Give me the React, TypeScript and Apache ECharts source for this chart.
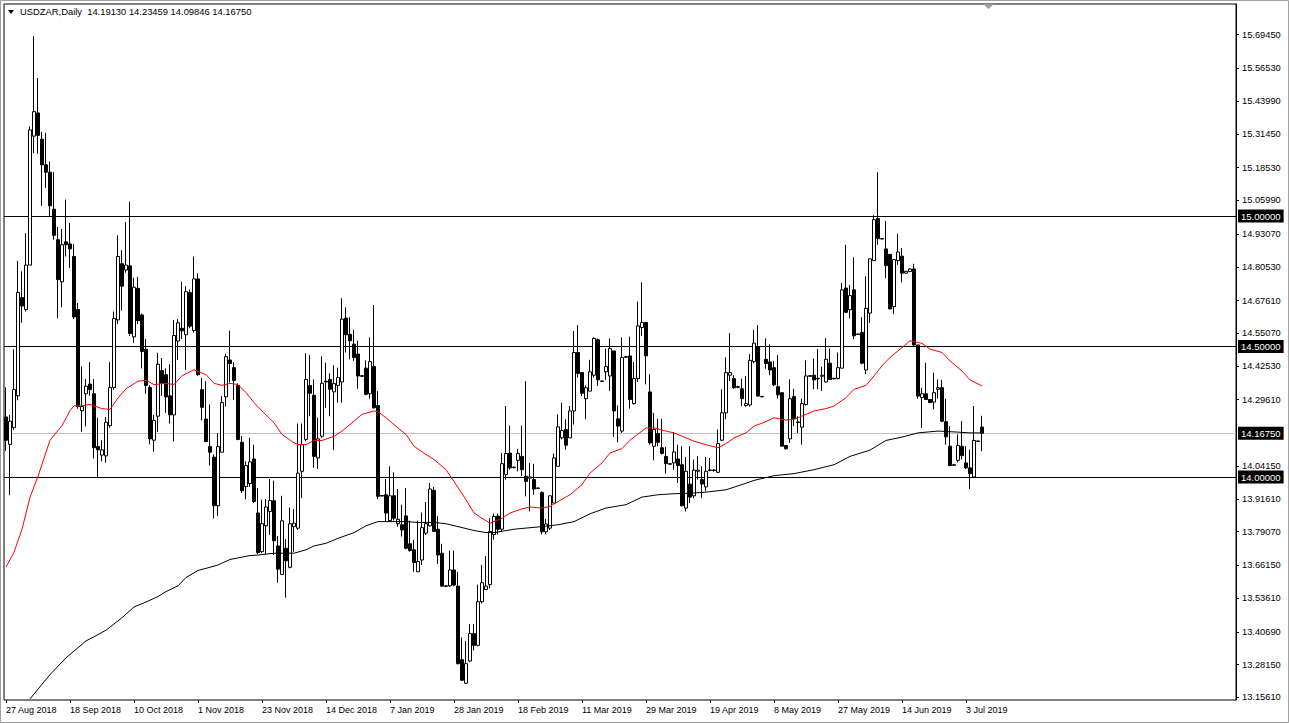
import React, { useEffect, useRef } from "react";
import * as echarts from "echarts";

// ---------- Data ----------
const openP = [
  14.230, 14.125, 14.189, 14.311, 14.688, 14.642, 14.812, 15.306, 15.395, 15.294,
  15.196, 15.168, 15.026, 14.909, 14.748, 14.901, 14.893, 14.845, 14.642, 14.254,
  14.319, 14.356, 14.319, 14.117, 14.084, 14.081, 14.197, 14.343, 14.602, 14.817,
  14.793, 14.809, 14.537, 14.723, 14.621, 14.489, 14.343, 14.141, 14.233, 14.408,
  14.392, 14.311, 14.238, 14.521, 14.570, 14.545, 14.707, 14.561, 14.759, 14.335,
  14.222, 14.117, 14.076, 13.890, 14.095, 14.307, 14.448, 14.419, 14.351, 14.133,
  13.963, 13.975, 14.069, 13.862, 13.714, 13.813, 13.868, 13.909, 13.736, 13.627,
  13.727, 13.654, 13.810, 13.804, 14.022, 14.144, 14.351, 14.313, 14.073, 14.156,
  14.367, 14.374, 14.326, 14.351, 14.364, 14.609, 14.547, 14.509, 14.471, 14.388,
  14.417, 14.319, 14.423, 14.274, 13.929, 13.932, 13.833, 13.928, 13.821, 13.817,
  13.851, 13.744, 13.721, 13.637, 13.682, 13.785, 13.813, 13.949, 13.800, 13.708,
  13.583, 13.583, 13.644, 13.582, 13.300, 13.210, 13.295, 13.400, 13.355, 13.522,
  13.569, 13.588, 13.780, 13.850, 13.800, 14.009, 14.092, 14.038, 14.064, 14.079,
  14.003, 13.996, 13.990, 13.958, 13.941, 13.790, 13.804, 13.900, 14.041, 14.150,
  14.182, 14.150, 14.253, 14.477, 14.400, 14.300, 14.329, 14.390, 14.526, 14.368,
  14.403, 14.387, 14.483, 14.223, 14.176, 14.461, 14.464, 14.281, 14.377, 14.573,
  14.592, 14.326, 14.118, 14.167, 14.112, 14.079, 14.051, 14.054, 14.069, 14.047,
  13.881, 13.973, 13.928, 14.022, 13.990, 13.962, 14.027, 14.027, 14.018, 14.141,
  14.246, 14.390, 14.377, 14.346, 14.338, 14.274, 14.276, 14.442, 14.499, 14.309,
  14.451, 14.441, 14.419, 14.346, 14.323, 14.121, 14.146, 14.308, 14.211, 14.191,
  14.278, 14.388, 14.390, 14.378, 14.386, 14.364, 14.436, 14.378, 14.377, 14.417,
  14.724, 14.641, 14.717, 14.548, 14.554, 14.410, 14.628, 14.829, 14.990, 14.914,
  14.874, 14.853, 14.653, 14.829, 14.846, 14.781, 14.787, 14.797, 14.506, 14.304,
  14.319, 14.297, 14.287, 14.336, 14.342, 14.212, 14.118, 14.047, 14.064, 14.118,
  14.054, 14.035, 14.000, 14.138, 14.1913,
];
const closeP = [
  14.141, 14.214, 14.335, 14.707, 14.655, 14.812, 15.330, 15.400, 15.309, 15.196,
  15.168, 15.039, 14.926, 14.756, 14.890, 14.890, 14.874, 14.613, 14.270, 14.270,
  14.348, 14.335, 14.112, 14.104, 14.104, 14.210, 14.343, 14.607, 14.845, 14.731,
  14.812, 14.550, 14.727, 14.599, 14.481, 14.351, 14.146, 14.217, 14.432, 14.359,
  14.307, 14.238, 14.542, 14.591, 14.560, 14.710, 14.578, 14.759, 14.392, 14.267,
  14.136, 14.095, 13.890, 14.117, 14.285, 14.461, 14.435, 14.370, 14.144, 13.947,
  14.044, 14.058, 13.906, 13.710, 13.821, 13.885, 13.910, 13.756, 13.647, 13.832,
  13.679, 13.821, 13.823, 14.015, 14.124, 14.374, 14.321, 14.079, 14.146, 14.359,
  14.364, 14.336, 14.358, 14.381, 14.605, 14.545, 14.522, 14.458, 14.387, 14.386,
  14.317, 14.442, 14.265, 13.926, 13.927, 13.862, 13.928, 13.842, 13.838, 13.797,
  13.727, 13.718, 13.672, 13.676, 13.806, 13.821, 13.954, 13.791, 13.701, 13.582,
  13.581, 13.644, 13.586, 13.285, 13.221, 13.285, 13.400, 13.355, 13.522, 13.595,
  13.582, 13.791, 13.849, 13.800, 14.051, 14.090, 14.035, 14.036, 14.090, 14.028,
  13.983, 14.000, 13.954, 13.956, 13.790, 13.820, 13.928, 14.073, 14.192, 14.178,
  14.122, 14.253, 14.477, 14.397, 14.321, 14.342, 14.403, 14.531, 14.372, 14.366,
  14.423, 14.492, 14.253, 14.195, 14.458, 14.459, 14.297, 14.377, 14.579, 14.592,
  14.464, 14.131, 14.182, 14.133, 14.090, 14.051, 14.049, 14.096, 14.044, 13.890,
  14.022, 13.923, 14.026, 14.026, 13.973, 14.022, 14.025, 14.025, 14.128, 14.246,
  14.400, 14.400, 14.342, 14.344, 14.300, 14.281, 14.447, 14.513, 14.310, 14.307,
  14.435, 14.410, 14.353, 14.315, 14.118, 14.108, 14.300, 14.223, 14.209, 14.281,
  14.387, 14.386, 14.372, 14.376, 14.390, 14.451, 14.374, 14.376, 14.419, 14.717,
  14.631, 14.695, 14.541, 14.546, 14.436, 14.646, 14.836, 14.986, 14.913, 14.912,
  14.810, 14.644, 14.833, 14.862, 14.781, 14.788, 14.797, 14.506, 14.310, 14.319,
  14.297, 14.285, 14.323, 14.342, 14.214, 14.154, 14.044, 14.045, 14.121, 14.082,
  14.035, 14.013, 14.140, 14.136, 14.1675,
];
const lowP = [
  14.100, 13.930, 14.181, 14.294, 14.591, 14.634, 14.812, 15.241, 15.238, 15.039,
  15.107, 14.998, 14.909, 14.608, 14.650, 14.845, 14.801, 14.605, 14.262, 14.173,
  14.194, 14.311, 14.071, 14.000, 14.060, 14.055, 14.189, 14.335, 14.586, 14.638,
  14.783, 14.540, 14.513, 14.586, 14.416, 14.319, 14.125, 14.097, 14.173, 14.311,
  14.246, 14.205, 14.136, 14.448, 14.529, 14.411, 14.570, 14.553, 14.388, 14.217,
  14.133, 14.044, 13.841, 13.850, 14.095, 14.270, 14.362, 14.296, 14.141, 13.939,
  13.914, 13.962, 13.900, 13.705, 13.708, 13.705, 13.778, 13.701, 13.595, 13.624,
  13.538, 13.650, 13.714, 13.797, 13.919, 14.137, 14.233, 14.035, 14.031, 14.150,
  14.265, 14.233, 14.103, 14.285, 14.285, 14.477, 14.451, 14.445, 14.338, 14.384,
  14.313, 14.300, 14.262, 13.915, 13.926, 13.829, 13.829, 13.833, 13.810, 13.772,
  13.723, 13.714, 13.637, 13.637, 13.663, 13.778, 13.810, 13.791, 13.667, 13.579,
  13.580, 13.579, 13.582, 13.282, 13.221, 13.208, 13.291, 13.336, 13.351, 13.515,
  13.569, 13.573, 13.760, 13.780, 13.790, 13.990, 14.028, 14.033, 14.022, 14.003,
  13.926, 13.868, 13.932, 13.955, 13.780, 13.780, 13.797, 13.900, 14.041, 14.144,
  14.105, 14.150, 14.201, 14.381, 14.310, 14.221, 14.329, 14.381, 14.349, 14.365,
  14.372, 14.329, 14.154, 14.133, 14.169, 14.458, 14.262, 14.278, 14.364, 14.541,
  14.355, 14.124, 14.064, 14.118, 14.086, 14.013, 14.048, 14.028, 13.977, 13.887,
  13.868, 13.900, 13.919, 13.990, 13.919, 13.945, 14.022, 14.020, 14.015, 14.137,
  14.221, 14.368, 14.338, 14.340, 14.272, 14.269, 14.269, 14.436, 14.308, 14.306,
  14.415, 14.390, 14.349, 14.300, 14.118, 14.105, 14.131, 14.195, 14.169, 14.124,
  14.274, 14.385, 14.336, 14.336, 14.329, 14.362, 14.372, 14.375, 14.374, 14.417,
  14.628, 14.608, 14.528, 14.545, 14.432, 14.394, 14.590, 14.829, 14.890, 14.910,
  14.762, 14.644, 14.624, 14.813, 14.746, 14.780, 14.785, 14.503, 14.300, 14.188,
  14.295, 14.285, 14.259, 14.300, 14.210, 14.124, 14.041, 14.044, 14.056, 14.067,
  14.031, 13.954, 13.996, 14.135, 14.09846,
];
const highP = [
  14.343, 14.238, 14.489, 14.828, 14.788, 14.934, 15.343, 15.689, 15.529, 15.322,
  15.319, 15.209, 15.168, 14.958, 14.950, 15.063, 14.974, 14.893, 14.667, 14.424,
  14.375, 14.440, 14.375, 14.227, 14.141, 14.230, 14.440, 14.634, 14.926, 14.869,
  14.977, 15.055, 14.764, 14.767, 14.626, 14.529, 14.351, 14.238, 14.476, 14.456,
  14.416, 14.432, 14.602, 14.605, 14.748, 14.731, 14.718, 14.845, 14.780, 14.379,
  14.367, 14.278, 14.087, 14.168, 14.311, 14.472, 14.561, 14.440, 14.359, 14.157,
  14.060, 14.150, 14.124, 13.958, 13.913, 13.915, 13.992, 13.986, 13.774, 13.928,
  13.762, 13.883, 13.877, 14.205, 14.205, 14.474, 14.467, 14.374, 14.227, 14.462,
  14.438, 14.397, 14.428, 14.419, 14.685, 14.650, 14.612, 14.564, 14.522, 14.390,
  14.447, 14.535, 14.659, 14.329, 13.930, 13.992, 14.041, 14.018, 13.954, 13.894,
  13.958, 13.833, 13.759, 13.833, 13.864, 13.904, 13.977, 13.962, 13.851, 13.744,
  13.584, 13.718, 13.718, 13.637, 13.385, 13.372, 13.436, 13.436, 13.588, 13.663,
  13.697, 13.842, 13.860, 13.860, 14.092, 14.272, 14.197, 14.040, 14.108, 14.197,
  14.367, 14.054, 14.050, 13.960, 13.945, 13.840, 13.928, 14.090, 14.240, 14.285,
  14.221, 14.272, 14.560, 14.582, 14.400, 14.351, 14.449, 14.535, 14.531, 14.370,
  14.492, 14.531, 14.483, 14.274, 14.535, 14.462, 14.538, 14.441, 14.672, 14.746,
  14.592, 14.394, 14.246, 14.223, 14.223, 14.115, 14.052, 14.172, 14.124, 14.118,
  14.077, 14.118, 14.067, 14.079, 14.041, 14.077, 14.073, 14.030, 14.182, 14.336,
  14.458, 14.551, 14.390, 14.350, 14.377, 14.387, 14.471, 14.564, 14.582, 14.310,
  14.531, 14.509, 14.445, 14.467, 14.323, 14.121, 14.374, 14.338, 14.233, 14.300,
  14.447, 14.390, 14.454, 14.490, 14.423, 14.532, 14.492, 14.380, 14.477, 14.744,
  14.890, 14.736, 14.842, 14.550, 14.612, 14.769, 14.836, 15.003, 15.167, 14.915,
  14.981, 14.853, 14.833, 14.932, 14.877, 14.790, 14.800, 14.817, 14.506, 14.342,
  14.438, 14.297, 14.400, 14.374, 14.372, 14.300, 14.195, 14.048, 14.163, 14.214,
  14.118, 14.105, 14.272, 14.140, 14.23459,
];

// Moving averages read at sampled bars: [bar index, value]
const maRed = [
  [0, 13.655], [2, 13.712], [4, 13.8], [6, 13.922], [8, 14.003], [11, 14.141], [14, 14.197],
  [16, 14.254], [17, 14.273], [19, 14.273], [21, 14.278], [24, 14.262], [26, 14.259], [28, 14.303],
  [30, 14.338], [33, 14.367], [35, 14.371], [37, 14.354], [40, 14.359], [42, 14.354], [44, 14.388],
  [47, 14.411], [50, 14.392], [52, 14.359], [54, 14.351], [56, 14.359], [58, 14.354], [60, 14.323],
  [62, 14.285], [64, 14.253], [67, 14.208], [69, 14.163], [72, 14.131], [73, 14.124], [75, 14.124],
  [77, 14.14], [79, 14.14], [82, 14.156], [84, 14.176], [87, 14.214], [89, 14.24], [92, 14.253],
  [93, 14.25], [95, 14.227], [97, 14.201], [100, 14.163], [102, 14.118], [105, 14.086], [107, 14.067],
  [110, 14.028], [112, 13.983], [115, 13.913], [117, 13.862], [119, 13.842], [121, 13.823],
  [124, 13.842], [126, 13.862], [129, 13.878], [131, 13.885], [134, 13.881], [136, 13.887],
  [138, 13.906], [141, 13.932], [144, 13.971], [146, 14.015], [149, 14.054], [151, 14.092],
  [154, 14.109], [156, 14.141], [159, 14.176], [160, 14.188], [162, 14.188], [165, 14.176],
  [167, 14.169], [170, 14.15], [172, 14.137], [175, 14.124], [178, 14.112], [180, 14.128],
  [182, 14.15], [185, 14.169], [187, 14.195], [190, 14.212], [192, 14.227], [195, 14.218],
  [197, 14.221], [200, 14.24], [202, 14.253], [205, 14.262], [207, 14.272], [210, 14.304],
  [212, 14.336], [215, 14.351], [217, 14.387], [219, 14.426], [221, 14.458], [224, 14.496],
  [226, 14.522], [229, 14.512], [231, 14.49], [234, 14.477], [236, 14.445], [239, 14.406],
  [241, 14.372], [244, 14.349],
];
const maBlack = [
  [6, 13.15], [11, 13.243], [15, 13.307], [20, 13.372], [22, 13.388], [25, 13.413], [29, 13.461],
  [32, 13.502], [35, 13.521], [38, 13.542], [40, 13.561], [43, 13.583], [45, 13.615], [48, 13.642],
  [50, 13.65], [53, 13.663], [56, 13.684], [59, 13.693], [61, 13.699], [63, 13.701], [67, 13.708],
  [72, 13.708], [75, 13.721], [77, 13.736], [80, 13.746], [83, 13.765], [87, 13.787], [90, 13.813],
  [93, 13.829], [97, 13.829], [100, 13.829], [103, 13.826], [107, 13.826], [110, 13.821],
  [113, 13.81], [117, 13.795], [120, 13.787], [122, 13.787], [127, 13.8], [134, 13.81],
  [138, 13.817], [142, 13.829], [146, 13.859], [150, 13.881], [155, 13.894], [159, 13.923],
  [163, 13.932], [167, 13.936], [171, 13.938], [175, 13.942], [180, 13.951], [184, 13.971],
  [187, 13.987], [192, 14.005], [197, 14.013], [202, 14.028], [207, 14.047], [211, 14.079],
  [216, 14.103], [220, 14.14], [224, 14.153], [228, 14.169], [233, 14.176], [238, 14.172],
  [241, 14.169], [244, 14.169],
];

const dateLabels = [
  "27 Aug 2018", "18 Sep 2018", "10 Oct 2018", "1 Nov 2018", "23 Nov 2018", "14 Dec 2018",
  "7 Jan 2019", "28 Jan 2019", "18 Feb 2019", "11 Mar 2019", "29 Mar 2019", "19 Apr 2019",
  "8 May 2019", "27 May 2019", "14 Jun 2019", "3 Jul 2019",
];
const priceTicks = [
  15.6945, 15.5653, 15.4399, 15.3145, 15.1853, 15.0599, 14.9307, 14.8053, 14.6761, 14.5507,
  14.4253, 14.2961, 14.0415, 13.9161, 13.7907, 13.6615, 13.5361, 13.4069, 13.2815, 13.1561,
];
const levelLines = [15.0, 14.5, 14.0];
const currentPrice = 14.1675;
const headerText = "USDZAR,Daily  14.19130 14.23459 14.09846 14.16750";

const LABEL_EVERY = 16;
const TOTAL_SLOTS = 308;

const FONT = "'Liberation Sans', Arial, sans-serif";

export default function App() {
  const ref = useRef<HTMLDivElement>(null);
  useEffect(() => {
    if (!ref.current) return;
    const chart = echarts.init(ref.current, undefined, { renderer: "svg" });
    const cats = Array.from({ length: TOTAL_SLOTS }, (_, i) => String(i));
    const candles = openP.map((o, i) => [o, closeP[i], lowP[i], highP[i]]);
    const isLabel = (idx: number) => idx % LABEL_EVERY === 0 && idx / LABEL_EVERY < dateLabels.length;
    const boxLabel = (v: number) => ({
      show: true,
      position: "end",
      distance: 2,
      formatter: v.toFixed(5),
      color: "#fff",
      backgroundColor: "#000",
      padding: [2, 3, 1, 3],
      fontSize: 9.5,
      fontFamily: FONT,
    });

    chart.setOption({
      animation: false,
      backgroundColor: "#ffffff",
      grid: {
        left: 4, top: 4, width: 1232, height: 696,
        show: true, borderColor: "#000", borderWidth: 1, backgroundColor: "#fff",
      },
      xAxis: {
        type: "category",
        data: cats,
        boundaryGap: true,
        axisLine: { show: false },
        axisTick: {
          show: true, length: 3, alignWithLabel: true,
          interval: (idx: number) => isLabel(idx),
          lineStyle: { color: "#000" },
        },
        axisLabel: {
          show: true,
          interval: (idx: number) => isLabel(idx),
          formatter: (_v: string, idx: number) => (isLabel(idx) ? dateLabels[idx / LABEL_EVERY] : ""),
          align: "left",
          margin: 5,
          color: "#000",
          fontSize: 9,
          fontFamily: FONT,
        },
        splitLine: { show: false },
      },
      yAxis: {
        type: "value",
        position: "right",
        min: 13.1456,
        max: 15.8123,
        axisLine: { show: true, lineStyle: { color: "#000" } },
        axisTick: { show: true, length: 3, customValues: priceTicks, lineStyle: { color: "#000" } },
        axisLabel: {
          show: true,
          customValues: priceTicks,
          formatter: (v: number) => v.toFixed(5),
          margin: 6,
          padding: [4, 0, 0, 0],
          color: "#000",
          fontSize: 9.3,
          fontFamily: FONT,
        },
        splitLine: { show: false },
      },
      graphic: [
        { type: "rect", shape: { x: 0.5, y: 0.5, width: 1288, height: 722 }, style: { fill: "none", stroke: "#a0a0a0", lineWidth: 1 }, z: 100 },
        { type: "polygon", shape: { points: [[8, 10], [14, 10], [11, 14]] }, style: { fill: "#000" } },
        { type: "polygon", shape: { points: [[983, 4], [994, 4], [988.5, 9]] }, style: { fill: "#a0a0a0" }, z: 100 },
        {
          type: "text", left: 20, top: 7,
          style: { text: headerText, fill: "#000", font: `9.4px ${FONT}` },
        },
      ],
      series: [
        {
          type: "candlestick",
          data: candles,
          barWidth: 3,
          itemStyle: {
            color: "#ffffff", color0: "#000000",
            borderColor: "#000000", borderColor0: "#000000", borderWidth: 1,
          },
          markLine: {
            silent: true,
            symbol: ["none", "none"],
            precision: 5,
            data: [
              ...levelLines.map((v) => ({
                yAxis: v,
                lineStyle: { color: "#000", width: 1, type: "solid" },
                label: boxLabel(v),
              })),
              {
                yAxis: currentPrice,
                lineStyle: { color: "#c0c0c0", width: 1, type: "solid" },
                label: boxLabel(currentPrice),
              },
            ],
            z: 1,
          },
        },
        {
          type: "line",
          data: maRed,
          showSymbol: false,
          symbol: "none",
          connectNulls: true,
          lineStyle: { color: "#ff0000", width: 1 },
          z: 3,
        },
        {
          type: "line",
          data: maBlack,
          showSymbol: false,
          symbol: "none",
          connectNulls: true,
          lineStyle: { color: "#000000", width: 1 },
          z: 3,
        },
      ],
    });
    return () => chart.dispose();
  }, []);
  return (
    <div
      ref={ref}
      style={{ position: "fixed", left: 0, top: 0, width: 1289, height: 723, background: "#fff" }}
    />
  );
}
